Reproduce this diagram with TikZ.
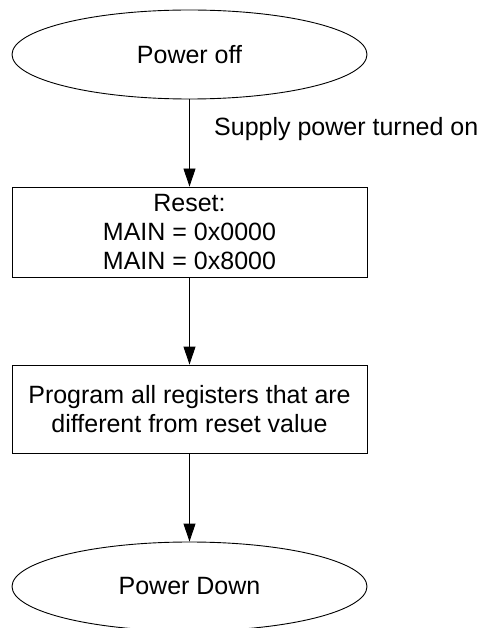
\documentclass[tikz,border=0pt]{standalone}
\usepackage{fontspec}
\setmainfont{Liberation Sans}
\usetikzlibrary{arrows.meta,shapes.geometric}
\begin{document}
\begin{tikzpicture}[x=1pt,y=-1pt,
  every node/.style={font=\fontsize{25}{29}\selectfont, inner sep=0pt},
  term/.style={draw, ellipse, line width=0.9pt, minimum width=355pt, minimum height=89pt},
  procbox/.style={draw, rectangle, line width=0.9pt, minimum width=355pt, align=center},
  conn/.style={line width=0.9pt, -{Triangle[length=18pt,width=12pt]}}]
\useasboundingbox (0,0) rectangle (477,628);
\node[term] (off) at (189.5,54.5) {Power off};
\node[procbox, minimum height=90pt] (reset) at (189.5,232) {Reset:\\MAIN = 0x0000\\MAIN = 0x8000};
\node[procbox, minimum height=88pt] (prog) at (189.5,409) {Program all registers that are\\different from reset value};
\node[term] (down) at (189.5,586.5) {Power Down};
\draw[conn] (off) -- (reset);
\draw[conn] (reset) -- (prog);
\draw[conn] (prog) -- (down);
\node[anchor=west] (lbl) at (214,129) {Supply power turned on};
\end{tikzpicture}
\end{document}
